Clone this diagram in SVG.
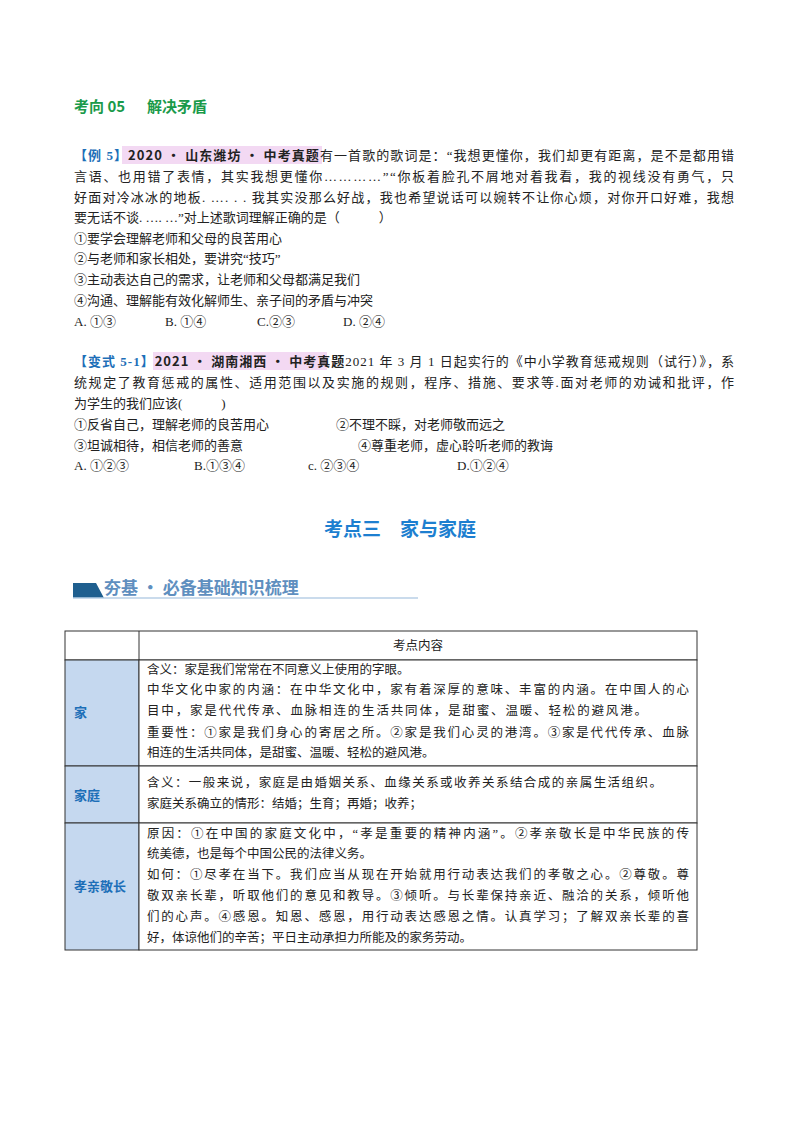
<svg xmlns="http://www.w3.org/2000/svg" width="800" height="1132" viewBox="0 0 800 1132">
<style>
text{font-family:"Liberation Serif","Noto Sans CJK SC",serif;font-size:13px;fill:#222}
.b{font-family:"Noto Sans CJK SC",sans-serif;font-weight:bold}
.g{fill:#1a9a4a;font-size:15px}
.bl{fill:#1d6fb8}
.c{font-size:12.5px}
.h2{font-size:19px;fill:#1d7fd0}
.bn{font-size:17px;fill:#5f8fbf}
.cell{fill:#fff;stroke:#333;stroke-width:1}
.hd{fill:#c5d8ef;stroke:#333;stroke-width:1}
</style>
<rect width="800" height="1132" fill="#fff"/>
<g id="heading1"><text class="b g" x="74" y="112">考向 05</text><text class="b g" x="147" y="112">解决矛盾</text></g>
<g id="example5">
<rect x="122" y="146" width="200" height="18" fill="#f3d9f3"/>
<text x="74" y="160" textLength="660"><tspan class="bl" font-weight="bold">【例 5】</tspan><tspan font-weight="bold" font-family="Noto Sans CJK SC,sans-serif">2020 • 山东潍坊 • 中考真题</tspan>有一首歌的歌词是：“我想更懂你，我们却更有距离，是不是都用错</text>
<text x="74" y="181" textLength="660">言语、也用错了表情，其实我想更懂你…………”“你板着脸孔不屑地对着我看，我的视线没有勇气，只</text>
<text x="74" y="202" textLength="660">好面对冷冰冰的地板. …. . . 我其实没那么好战，我也希望说话可以婉转不让你心烦，对你开口好难，我想</text>
<text x="74" y="222">要无话不谈. …. …”对上述歌词理解正确的是（　　　）</text>
<text x="74" y="243">①要学会理解老师和父母的良苦用心</text>
<text x="74" y="263">②与老师和家长相处，要讲究“技巧”</text>
<text x="74" y="284">③主动表达自己的需求，让老师和父母都满足我们</text>
<text x="74" y="305">④沟通、理解能有效化解师生、亲子间的矛盾与冲突</text>
<text x="74" y="326">A. ①③</text><text x="165" y="326">B. ①④</text><text x="257" y="326">C.②③</text><text x="343" y="326">D. ②④</text>
</g>
<g id="variant5-1">
<rect x="153" y="352" width="174" height="18" fill="#f3d9f3"/>
<text x="74" y="366" textLength="660"><tspan class="bl" font-weight="bold">【变式 5-1】</tspan><tspan font-weight="bold" font-family="Noto Sans CJK SC,sans-serif">2021 • 湖南湘西 • 中考真题</tspan>2021 年 3 月 1 日起实行的《中小学教育惩戒规则（试行）》，系</text>
<text x="74" y="387" textLength="660">统规定了教育惩戒的属性、适用范围以及实施的规则，程序、措施、要求等.面对老师的劝诫和批评，作</text>
<text x="74" y="408">为学生的我们应该(　　　)</text>
<text x="74" y="429">①反省自己，理解老师的良苦用心</text><text x="336" y="429">②不理不睬，对老师敬而远之</text>
<text x="74" y="450">③坦诚相待，相信老师的善意</text><text x="358" y="450">④尊重老师，虚心聆听老师的教诲</text>
<text x="74" y="470">A. ①②③</text><text x="194" y="470">B.①③④</text><text x="308" y="470">c. ②③④</text><text x="457" y="470">D.①②④</text>
</g>
<g id="heading2"><text class="b h2" x="400" y="536" text-anchor="middle">考点三　家与家庭</text></g>
<g id="banner">
<polygon points="73,583 96,583 104,598 73,598" fill="#1f5f8f"/>
<line x1="73" y1="598" x2="418" y2="598" stroke="#b8cfe6" stroke-width="1.5"/>
<text class="b bn" x="104" y="594">夯基 · 必备基础知识梳理</text>
</g>
<g id="table">
<rect class="cell" x="65" y="631" width="632" height="29"/>
<line x1="139" y1="631" x2="139" y2="660" stroke="#333"/>
<text class="c" x="418" y="650" text-anchor="middle">考点内容</text>
<rect class="hd" x="65" y="660" width="74" height="106"/>
<rect class="cell" x="139" y="660" width="558" height="106"/>
<text class="b bl" x="74" y="717">家</text>
<text class="c" x="147" y="674">含义：家是我们常常在不同意义上使用的字眼。</text>
<text class="c" x="147" y="694" textLength="542">中华文化中家的内涵：在中华文化中，家有着深厚的意味、丰富的内涵。在中国人的心</text>
<text class="c" x="147" y="715" textLength="500">目中，家是代代传承、血脉相连的生活共同体，是甜蜜、温暖、轻松的避风港。</text>
<text class="c" x="147" y="737" textLength="542">重要性：①家是我们身心的寄居之所。②家是我们心灵的港湾。③家是代代传承、血脉</text>
<text class="c" x="147" y="757">相连的生活共同体，是甜蜜、温暖、轻松的避风港。</text>
<rect class="hd" x="65" y="766" width="74" height="57"/>
<rect class="cell" x="139" y="766" width="558" height="57"/>
<text class="b bl" x="74" y="800">家庭</text>
<text class="c" x="147" y="787" textLength="515">含义：一般来说，家庭是由婚姻关系、血缘关系或收养关系结合成的亲属生活组织。</text>
<text class="c" x="147" y="808">家庭关系确立的情形：结婚；生育；再婚；收养；</text>
<rect class="hd" x="65" y="823" width="74" height="127"/>
<rect class="cell" x="139" y="823" width="558" height="127"/>
<text class="b bl" x="74" y="891">孝亲敬长</text>
<text class="c" x="147" y="838" textLength="542">原因：①在中国的家庭文化中，“孝是重要的精神内涵”。②孝亲敬长是中华民族的传</text>
<text class="c" x="147" y="858">统美德，也是每个中国公民的法律义务。</text>
<text class="c" x="147" y="879" textLength="542">如何：①尽孝在当下。我们应当从现在开始就用行动表达我们的孝敬之心。②尊敬。尊</text>
<text class="c" x="147" y="900" textLength="542">敬双亲长辈，听取他们的意见和教导。③倾听。与长辈保持亲近、融洽的关系，倾听他</text>
<text class="c" x="147" y="921" textLength="542">们的心声。④感恩。知恩、感恩，用行动表达感恩之情。认真学习；了解双亲长辈的喜</text>
<text class="c" x="147" y="942">好，体谅他们的辛苦；平日主动承担力所能及的家务劳动。</text>
</g>
</svg>
